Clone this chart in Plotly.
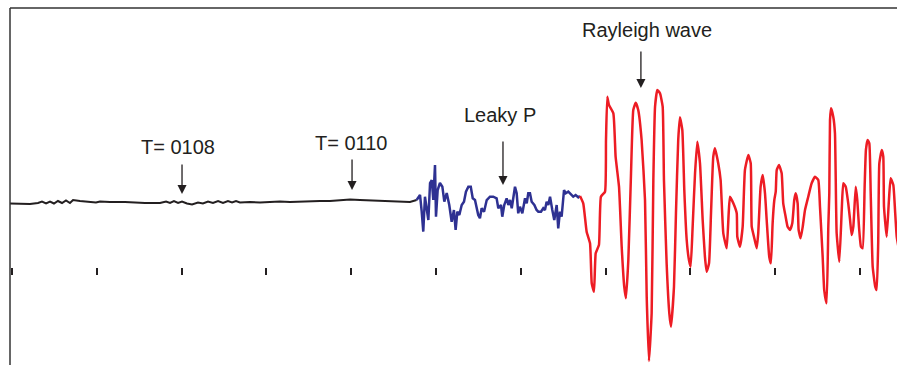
import plotly.graph_objects as go

# Time in seconds after 01:06:00; amplitude in arbitrary units
TICK_SECONDS = [0, 60, 120, 180, 240, 300, 360, 420, 480, 540, 600]

BLACK_T = [-1.4, 5.7, 12.7, 18.4, 21.2, 24.1, 26.9, 29.7, 32.5, 35.4,
           38.2, 41.0, 43.2, 48.1, 55.2, 59.4, 62.3, 69.3, 80.0, 87.0,
           94.1, 104.7, 109.0, 111.8, 114.6, 117.5, 120.3, 123.8, 127.4, 131.6,
           135.1, 138.7, 142.2, 145.8, 149.3, 152.8, 155.7, 158.5, 161.3, 168.4,
           175.5, 182.5, 189.6, 196.7, 203.8, 210.9, 217.9, 225.0, 232.1, 239.2,
           246.2, 253.3, 260.4, 267.5, 274.5, 281.6, 286.3]
BLACK_A = [-0.5, -1, -1, 0, 1.5, -0.5, 1.5, -0.5, 2, 0,
           2.5, 0, 3, 2, 1.5, 0.5, 1.5, 1, 1, 0.5,
           0, 0, 1.5, 0, 2, 0, 1.5, -0.5, -1.5, 0.5,
           -0.5, 1.5, 0, 2, 0, 2, 0.5, 2, 0.5, 1,
           0.5, 1, 1.5, 1, 1.5, 1.5, 2, 2, 3, 3.5,
           3, 2.5, 2, 1.5, 1, 1, 3]

BLUE_T = [286.3, 288.7, 289.9, 291.0, 292.2, 293.4, 294.6, 295.8, 297.0, 298.1,
          299.3, 300.0, 301.2, 302.8, 304.5, 305.9, 307.6, 309.4, 311.1, 312.7,
          313.9, 315.1, 316.5, 318.2, 319.8, 321.2, 322.9, 324.6, 326.0, 327.6,
          328.8, 329.9, 331.1, 332.3, 334.0, 335.9, 338.2, 340.5, 342.9, 344.1,
          346.0, 346.9, 348.3, 350.0, 351.2, 352.4, 353.6, 354.7, 355.9, 357.1,
          358.2, 359.4, 361.1, 363.0, 364.2, 365.3, 366.5, 367.7, 369.6, 371.2,
          372.4, 374.3, 375.9, 377.1, 378.3, 379.5, 380.7, 382.3, 383.7, 385.4,
          386.5, 387.7, 388.9, 390.6, 391.8, 393.6, 395.5, 397.1, 398.8, 400.7,
          401.9]
BLUE_A = [3, 8, -8.7, -28.7, 6.3, -8.7, -17, 20, 23, 3,
          38, -13.7, 13, 20, 16.3, 1.3, 10, -2, -18.7, -7,
          -27, -8.7, -12, -2, 1.3, 11.3, 16.3, 16.3, 4.7, 3,
          -3.7, -12, -15.3, -5.3, -8.7, 3, 6.3, 6.3, 4.7, -5.3,
          -2, -13.7, -2, 4.7, -2, 3, -5.3, 6.3, 16.3, 9.7,
          -10.3, -3.7, -10.3, 4.7, -0.3, 9.7, 9.7, 1.3, -2, -7,
          -8.7, -8.7, -5.3, -7, 1.3, -2, 6.3, -7, -17, -2,
          -25.3, -8.7, -13.7, 13, 9.7, 11.3, 8, 6.3, 8, 5.7,
          7]

RED_T = [401.9, 404.2, 406.6, 409.0, 410.2, 411.8, 413.0, 415.3, 416.7, 419.6,
         420.3, 421.2, 422.4, 425.5, 427.1, 429.5, 431.4, 433.2, 434.4, 436.1,
         438.0, 439.6, 441.3, 443.1, 445.5, 447.9, 449.1, 450.7, 452.6, 453.8,
         455.0, 456.6, 458.5, 460.4, 461.3, 463.2, 465.1, 466.3, 468.4, 469.8,
         471.4, 472.6, 474.3, 475.7, 477.4, 479.0, 480.2, 481.6, 483.3, 484.9,
         486.8, 488.7, 490.3, 491.5, 493.2, 494.6, 496.2, 497.4, 499.7, 501.4,
         503.3, 505.7, 507.1, 508.0, 510.4, 512.8, 513.2, 515.1, 517.0, 518.6,
         521.0, 522.7, 523.4, 525.0, 526.9, 528.0, 529.7, 531.2, 532.8, 534.0,
         535.8, 537.0, 538.2, 539.4, 540.4, 541.1, 542.7, 544.6, 545.7, 547.4,
         548.8, 550.5, 552.1, 553.5, 554.5, 555.9, 556.6, 558.0, 559.5, 561.1,
         563.4, 565.8, 568.2, 570.5, 571.7, 573.6, 574.7, 576.4, 577.6, 578.3,
         578.8, 579.5, 581.1, 582.3, 583.5, 585.4, 587.1, 588.2, 589.9, 591.7,
         593.0, 594.1, 595.3, 597.0, 598.1, 599.3, 600.7, 601.9, 603.3, 604.2,
         605.4, 606.6, 607.6, 609.0, 610.8, 611.8, 612.9, 613.7, 615.4, 616.5,
         617.0, 618.9, 620.5, 621.7, 623.6, 624.8, 626.0, 627.6]
RED_A = [7, -0.3, -28.7, -40.3, -80.3, -88.7, -50.3, -42, 6.3, 11.3,
         63, 106.3, 98, 89.7, 46.3, 16.3, -43.7, -83.7, -95.3, -57,
         29.7, 93, 100.3, 93, 63, 3, -93.7, -158, -110, 23,
         96.3, 113, 109.7, 96.3, 23, -60.3, -110.3, -123.7, -83.7, -10.3,
         63, 85.7, 73, 13, -37, -57, -63.7, -23.7, 29.7, 61.3,
         39.7, -17, -53.7, -68.7, -60.3, -10.3, 46.3, 54.7, 39.7, 23,
         -30.3, -45.3, -10.3, 6.3, -0.3, -10.3, -33.7, -43.7, -23.7, 33,
         48, 39.7, -23.7, -33.7, -45.3, -30.3, 16.3, 28, 9.7, -17,
         -53.7, -60.3, -20.3, 3, 11.3, 33, 38, 29.7, -0.3, -13.7,
         -23.7, -27, -20.3, 3, 9.7, -0.3, -27, -35.3, -23.7, -7,
         6.3, 19.7, 26.3, 23, -3.7, -53.7, -87, -100.3, -23.7, 9.7,
         83, 94.7, 86.3, 69.7, -30.3, -58.7, -7, 19.7, 16.3, -0.3,
         -17, -32, -23.7, 16.3, 3, -23.7, -43.7, -45.3, 16.3, 53,
         63, 59.7, 9.7, -63.7, -83.7, -87, -40.3, 39.7, 53, 46.3,
         -3.7, -33.7, 3, 24.7, 18, -7, -33.7, -47]

LABELS = ["T= 0108", "T= 0110", "Leaky P", "Rayleigh wave"]
LABEL_T = [117.5, 239.8, 345.4, 449.3]
LABEL_A = [56, 60, 88.5, 173.5]
ARROW_T = [120.3, 240.6, 347.4, 445.0]
ARROW_A = [9, 13, 18, 115]
ARROW_LEN = [31, 32, 45, 38]

assert len(BLACK_T) == len(BLACK_A)
assert len(BLUE_T) == len(BLUE_A)
assert len(RED_T) == len(RED_A)

INK = "#231f20"
fig = go.Figure()
fig.add_trace(go.Scatter(x=BLACK_T, y=BLACK_A, mode="lines",
                         line=dict(color=INK, width=2), hoverinfo="skip"))
fig.add_trace(go.Scatter(x=BLUE_T, y=BLUE_A, mode="lines",
                         line=dict(color="#2e3192", width=2.5), hoverinfo="skip"))
fig.add_trace(go.Scatter(x=RED_T, y=RED_A, mode="lines",
                         line=dict(color="#ed1c24", width=2.5, shape="spline", smoothing=0.4),
                         hoverinfo="skip"))

for lab, lt, la in zip(LABELS, LABEL_T, LABEL_A):
    fig.add_annotation(x=lt, y=la, text=lab, showarrow=False,
                       font=dict(family="Liberation Sans, Arial", size=20, color=INK),
                       xanchor="center", yanchor="middle")
for at, aa, ln in zip(ARROW_T, ARROW_A, ARROW_LEN):
    fig.add_annotation(x=at, y=aa, text="", showarrow=True, ax=0, ay=-ln,
                       arrowhead=2, arrowsize=1.4, arrowwidth=1.3, arrowcolor=INK,
                       standoff=0)

fig.add_shape(type="line", xref="paper", yref="paper", x0=0, x1=0, y0=0, y1=1,
              line=dict(color="#333333", width=1.5))
fig.add_shape(type="line", xref="paper", yref="paper", x0=0, x1=1, y0=1, y1=1,
              line=dict(color="#333333", width=1.5))

fig.update_layout(
    width=897, height=365,
    margin=dict(l=10, r=0, t=8, b=0, pad=0),
    paper_bgcolor="white", plot_bgcolor="white",
    showlegend=False,
    xaxis=dict(range=[-1.415, 626.2], anchor="free", position=0.2745,
               tickvals=TICK_SECONDS, ticks="outside", ticklen=7, tickwidth=2,
               tickcolor=INK, showticklabels=False, showgrid=False,
               zeroline=False, showline=False),
    yaxis=dict(range=[-162, 195], visible=False, showgrid=False, zeroline=False),
)

fig.write_html("out.html", config={"displayModeBar": False})
